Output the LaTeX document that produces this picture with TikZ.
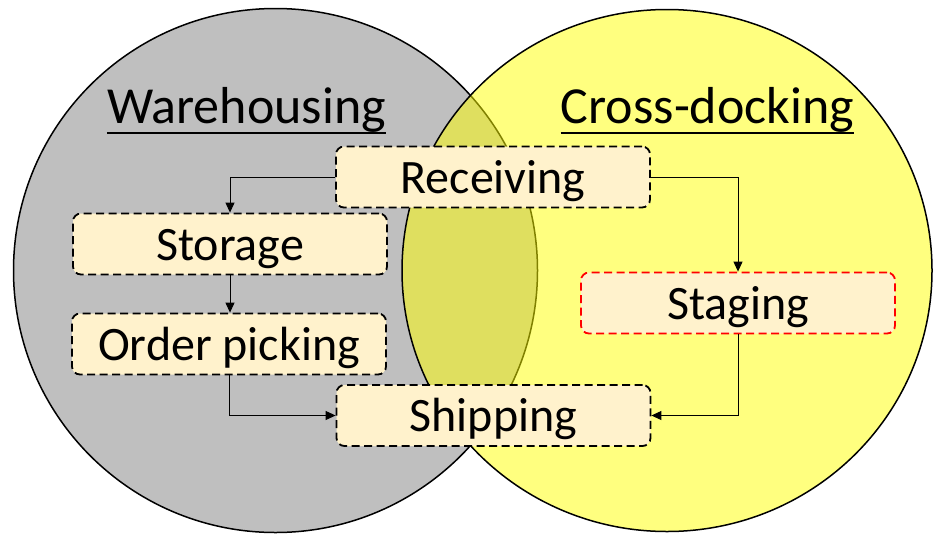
\documentclass[tikz,border=0pt]{standalone}
\usepackage{fontspec}
\setmainfont{Carlito}
\usetikzlibrary{arrows.meta}
\definecolor{greyc}{HTML}{BFBFBF}
\definecolor{ylw}{HTML}{FFFF00}
\definecolor{boxfill}{HTML}{FFF2CC}
\begin{document}
\begin{tikzpicture}[x=1pt,y=-1pt,
  stepbox/.style={draw, dash pattern=on 8pt off 4.5pt, line width=1.8pt, fill=boxfill,
    rounded corners=8pt, minimum width=314pt, minimum height=61pt, inner sep=0pt,
    font=\fontsize{48}{56}\selectfont, text height=33pt, text depth=1pt},
  title/.style={inner sep=0pt, anchor=base, font=\fontsize{52}{60}\selectfont},
  arr/.style={line width=1pt, -{Triangle[length=10pt,width=9pt]}},
  circ/.style={line width=1.5pt}]
\useasboundingbox (0,0) rectangle (934,533);
\fill[white] (0,0) rectangle (934,533);
\draw[circ, fill=greyc] (275.5,270.5) circle[radius=262];
\draw[circ, fill=ylw, fill opacity=0.5] (667,270.5) ellipse[x radius=265, y radius=261];
\node[title] (wh) at (246.5,123) {Warehousing};
\node[title] (cd) at (707.5,123) {Cross-docking};
\draw[line width=2.5pt] ([yshift=-10pt]wh.base west) -- ([yshift=-10pt]wh.base east);
\draw[line width=2.5pt] ([yshift=-10pt]cd.base west) -- ([yshift=-10pt]cd.base east);
\node[stepbox] (rec) at (493,177) {Receiving};
\node[stepbox] (sto) at (230,244) {Storage};
\node[stepbox] (ord) at (229,344) {Order picking};
\node[stepbox] (shp) at (493.5,415.5) {Shipping};
\node[stepbox, draw=red] (stg) at (738,303) {Staging};
\draw[arr] (rec.west) -| (sto.north);
\draw[arr] (sto.south) -- (sto.south |- ord.north);
\draw[arr] (ord.south) |- (shp.west);
\draw[arr] (rec.east) -| (stg.north);
\draw[arr] (stg.south) |- (shp.east);
\end{tikzpicture}
\end{document}
